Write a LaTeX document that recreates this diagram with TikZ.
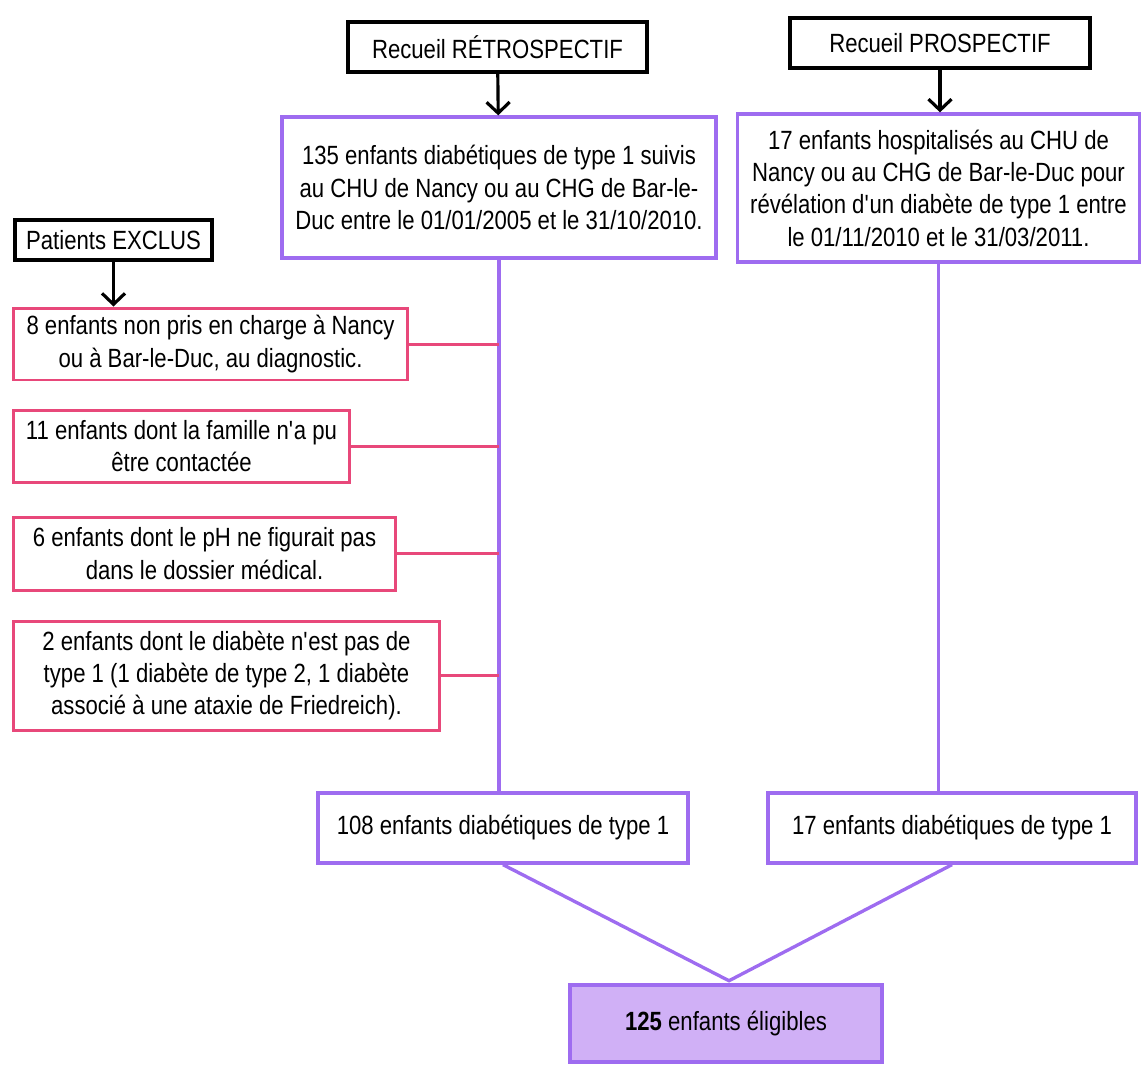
\documentclass[tikz,border=0pt]{standalone}
\usepackage{fontspec}
\setmainfont[FakeStretch=0.84]{Liberation Sans}
\usetikzlibrary{positioning, calc, arrows.meta}

\definecolor{boxpurple}{RGB}{158,108,240}
\definecolor{boxpink}{RGB}{232,72,122}
\definecolor{fillpurple}{RGB}{208,176,246}

\begin{document}
\begin{tikzpicture}[x=0.02cm,y=-0.02cm,
        every node/.style={font=\fontsize{15}{18.4}\selectfont},
        head/.style={% For the black titles
            rectangle,
            draw=black,
            line width=1.8pt,
            align=center,
            },
        group/.style={% For the purple boxes
            rectangle,
            draw=boxpurple,
            line width=1.9pt,
            align=center,
            },
        excl/.style={% For the excluded patients
            rectangle,
            draw=boxpink,
            line width=1.7pt,
            align=center,
            },
        total/.style={% For the final box
            rectangle,
            draw=boxpurple,
            fill=fillpurple,
            line width=2.6pt,
            },
        ArrowB/.style={% Black arrows
            line width=1.8pt,
            -{Straight Barb[length=2.2mm,width=4.6mm,line width=1.8pt]},
            },
        LineP/.style={% Purple links
            draw=boxpurple,
            line width=1.9pt,
            },
        LineR/.style={% Pink links
            draw=boxpink,
            line width=1.7pt,
            },
            ]
        \useasboundingbox (0,0) rectangle (1142,1066);
        % titles
        \node[head, minimum width=5.98cm, minimum height=1cm] (retro) at (497.5,47) {Recueil RÉTROSPECTIF};
        \node[head, minimum width=6cm, minimum height=1cm] (prosp) at (940,43) {Recueil PROSPECTIF};
        \node[head, minimum width=3.94cm, minimum height=0.8cm] (exclus) at (113.5,240) {Patients EXCLUS};
        % both collections
        \node[group, minimum width=8.68cm, minimum height=2.82cm] (retroset) at (499,187.5)
            {135 enfants diabétiques de type 1 suivis\\au CHU de Nancy ou au CHG de Bar-le-\\Duc entre le 01/01/2005 et le 31/10/2010.};
        \node[group, minimum width=8.04cm, minimum height=2.96cm] (prospset) at (938.5,188)
            {17 enfants hospitalisés au CHU de\\Nancy ou au CHG de Bar-le-Duc pour\\révélation d\textquotesingle un diabète de type 1 entre\\le 01/11/2010 et le 31/03/2011.};
        % excluded
        \node[excl, minimum width=7.9cm, minimum height=1.44cm] (ex1) at (210.5,344)
            {8 enfants non pris en charge à Nancy\\ou à Bar-le-Duc, au diagnostic.};
        \node[excl, minimum width=6.74cm, minimum height=1.44cm] (ex2) at (181.5,446)
            {11 enfants dont la famille n\textquotesingle a pu\\être contactée};
        \node[excl, minimum width=7.66cm, minimum height=1.46cm] (ex3) at (204.5,553.5)
            {6 enfants dont le pH ne figurait pas\\dans le dossier médical.};
        \node[excl, minimum width=8.54cm, minimum height=2.18cm] (ex4) at (226.5,675.5)
            {2 enfants dont le diabète n\textquotesingle est pas de\\type 1 (1 diabète de type 2, 1 diabète\\associé à une ataxie de Friedreich).};
        % results
        \node[group, minimum width=7.4cm, minimum height=1.4cm] (retroend) at (503,828) {108 enfants diabétiques de type 1};
        \node[group, minimum width=7.36cm, minimum height=1.4cm] (prospend) at (952,828) {17 enfants diabétiques de type 1};
        \node[total, minimum width=6.24cm, minimum height=1.54cm] (final) at (726,1023.5) {\textbf{125} enfants éligibles};
        % arrows
        \draw[ArrowB] (retro) -- (retroset);
        \draw[ArrowB] (prosp.south) -- (prosp.south |- prospset.north);
        \draw[ArrowB] (exclus.south) -- (exclus.south |- ex1.north);
        % vertical links
        \coordinate (rtop) at (retroset.south);
        \coordinate (rbot) at (rtop |- retroend.north);
        \draw[LineP] (rtop) -- (rbot);
        \draw[LineP] (prospset.south) -- (prospset.south |- prospend.north);
        \foreach \e in {ex1,ex2,ex3,ex4}
            \draw[LineR] (\e.east) -- (\e.east -| rtop);
        \coordinate (meet) at ($(final.north)+(3,-2)$);
        \draw[LineP] (retroend.south) -- (meet) -- (prospend.south);
        \end{tikzpicture}
\end{document}
